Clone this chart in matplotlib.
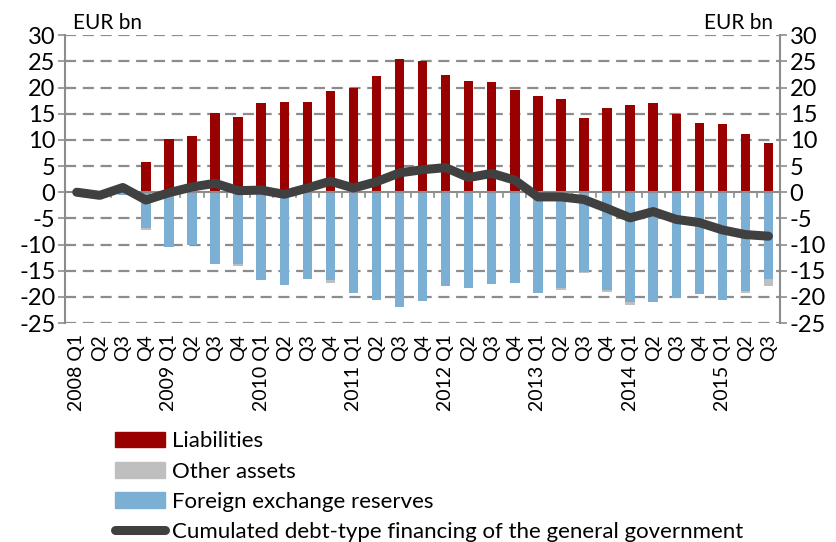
import numpy as np
import matplotlib
matplotlib.use("Agg")
import matplotlib.pyplot as plt
from matplotlib.lines import Line2D
from matplotlib.patches import Patch

plt.rcParams['font.family'] = ['Lato', 'DejaVu Sans']

# data (EUR bn)
years = ["2008", "2009", "2010", "2011", "2012", "2013", "2014", "2015"]
quarters = [f"{y} Q{q}" for y in years for q in range(1, 5)][:31]
tick_labels = [q if q.endswith("Q1") else q[-2:] for q in quarters]

liabilities = [0, 0.2, 1.3, 5.7, 10.2, 10.7, 15.2, 14.4, 17.0, 17.2, 17.2, 19.4,
               20.0, 22.2, 25.4, 25.0, 22.4, 21.3, 21.0, 19.5, 18.3, 17.9, 14.1, 16.0,
               16.7, 17.0, 15.0, 13.3, 13.1, 11.2, 9.4]
fx_reserves = [0, 0, -0.6, -6.9, -10.5, -10.1, -13.8, -13.7, -16.8, -17.7, -16.5, -16.7,
               -19.3, -20.6, -21.9, -20.8, -17.9, -18.4, -17.5, -17.4, -19.3, -18.4, -15.2, -18.7,
               -20.9, -20.9, -20.3, -19.5, -20.6, -18.9, -16.5]
other_assets = [0, 0, 0, -0.3, 0, 0, 0, -0.4, 0, 0, 0, -0.7,
                0, 0, 0, 0, 0, 0, 0, 0, 0, -0.3, -0.3, -0.4,
                -0.6, 0, 0, 0, 0, -0.4, -1.4]
gov_financing = [0, -0.6, 0.9, -1.5, -0.1, 1.0, 1.7, 0.3, 0.4, -0.4, 0.8, 2.1,
                 0.8, 2.0, 3.7, 4.3, 4.7, 2.8, 3.6, 2.3, -0.9, -0.9, -1.4, -3.1,
                 -4.9, -3.7, -5.2, -5.8, -7.2, -8.1, -8.4]

c_liab = "#990000"
c_other = "#BFBFBF"
c_fx = "#7BAFD4"
c_line = "#404040"
c_axis = "#8C8C8C"

fig = plt.figure(figsize=(8.36, 5.42), dpi=100)
ax = fig.add_axes([0.078, 0.404, 0.855, 0.531])

x = np.arange(len(quarters))
w = 0.41
ax.bar(x, liabilities, w, color=c_liab, zorder=3)
ax.bar(x, fx_reserves, w, color=c_fx, zorder=3)
ax.bar(x, other_assets, w, bottom=fx_reserves, color=c_other, zorder=3)
ax.plot(x, gov_financing, color=c_line, lw=6.5, solid_capstyle="round",
        solid_joinstyle="round", zorder=5)

ax.set_xlim(-0.5, len(x) - 0.5)
ax.set_ylim(-25, 30)
yt = np.arange(-25, 31, 5)
ax.set_yticks(yt)
ax.set_yticklabels([str(v) for v in yt], fontsize=17)
for v in yt:
    if v != 0:
        ax.axhline(v, color=c_axis, lw=1.6, ls=(0, (5, 3)), zorder=1)
ax.axhline(0, color=c_axis, lw=1.5, zorder=4)
# small category ticks under the zero line
for b in np.arange(len(x) - 1) + 0.5:
    ax.plot([b, b], [0, -0.9], color=c_axis, lw=1.2, zorder=4)

ax.set_xticks(x)
ax.set_xticklabels(tick_labels, rotation=90, fontsize=14)
ax.tick_params(axis="x", length=0, pad=8)
ax.tick_params(axis="y", direction="out", length=5, color=c_axis, width=1.2, pad=2)
for s in ["top", "bottom", "right"]:
    ax.spines[s].set_visible(False)
ax.spines["left"].set_color(c_axis)
ax.spines["left"].set_linewidth(1.5)

ax2 = ax.twinx()
ax2.set_ylim(ax.get_ylim())
ax2.set_yticks(yt)
ax2.set_yticklabels([str(v) for v in yt], fontsize=17)
ax2.tick_params(axis="y", direction="out", length=5, color=c_axis, width=1.2, pad=2)
for s in ["top", "bottom", "left"]:
    ax2.spines[s].set_visible(False)
ax2.spines["right"].set_color(c_axis)
ax2.spines["right"].set_linewidth(1.5)

fig.text(0.087, 0.958, "EUR bn", fontsize=15, va="center", ha="left")
fig.text(0.925, 0.958, "EUR bn", fontsize=15, va="center", ha="right")

handles = [Patch(color=c_liab), Patch(color=c_other), Patch(color=c_fx),
           Line2D([0], [0], color=c_line, lw=6.5, solid_capstyle="round")]
labels = ["Liabilities", "Other assets", "Foreign exchange reserves",
          "Cumulated debt-type financing of the general government"]
fig.legend(handles, labels, loc="upper left", bbox_to_anchor=(0.1376, 0.204),
           frameon=False, fontsize=16, handlelength=2.25, handleheight=0.7,
           handletextpad=0.3, labelspacing=0.46, borderaxespad=0, borderpad=0)

fig.savefig("out.png", dpi=100)
